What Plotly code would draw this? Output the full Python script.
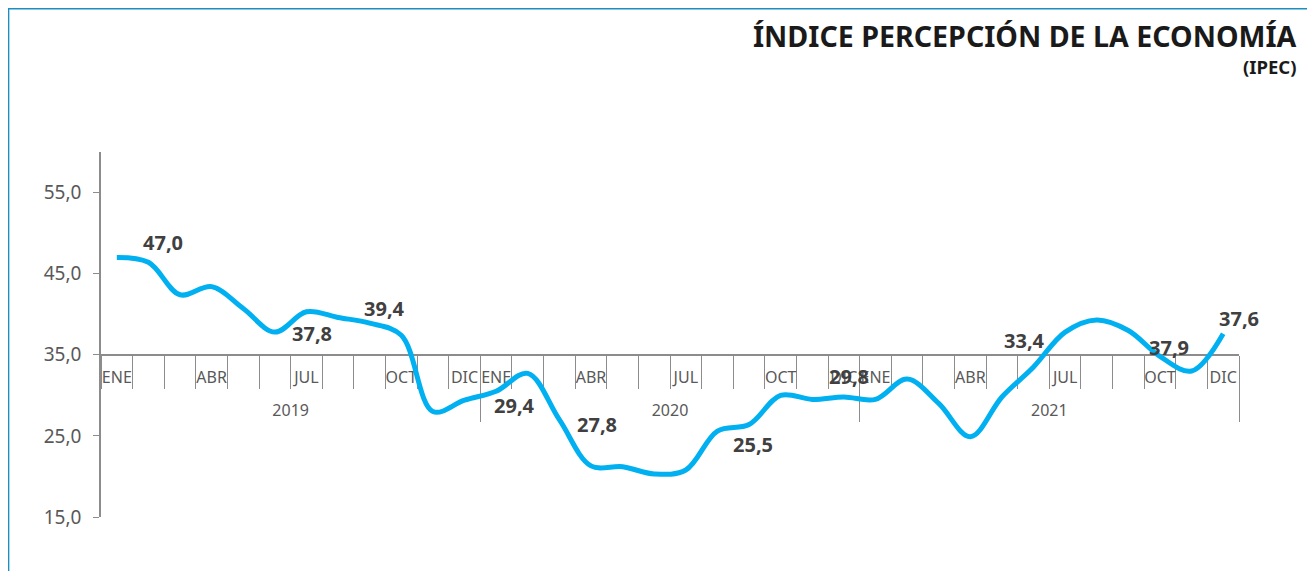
import plotly.graph_objects as go

# ---------------- data ----------------
years = ["2019", "2020", "2021"]
months = ["ENE", "FEB", "MAR", "ABR", "MAY", "JUN", "JUL", "AGO", "SEP", "OCT", "NOV", "DIC"]
shown_months = ["ENE", "ABR", "JUL", "OCT", "DIC"]

ipec = [47.0, 46.4, 42.4, 43.4, 40.7, 37.8, 40.3, 39.6, 38.9, 37.4, 28.0, 29.4,
        30.5, 32.7, 27.0, 21.3, 21.2, 20.3, 20.8, 25.6, 26.4, 30.0, 29.5, 29.8,
        29.5, 32.0, 29.0, 24.9, 29.8, 33.5, 37.8, 39.3, 38.0, 34.8, 33.0, 37.6]

label_text = ["47,0", "37,8", "39,4", "29,4", "27,8", "25,5", "29,8", "33,4", "37,9", "37,6"]
# label anchor positions (category index, value units)
label_pos_x = [1.46, 6.18, 8.46, 12.58, 15.2, 20.14, 23.17, 28.72, 33.27, 35.5]
label_pos_y = [48.8, 37.65, 40.7, 28.8, 26.4, 23.9, 32.3, 36.8, 35.9, 39.5]

y_ticks = [15, 25, 35, 45, 55]
y_range = [15, 60]
x_cross = 35

# ---------------- derived ----------------
n = len(ipec)
x_idx = list(range(n))
boundaries = [i - 0.5 for i in range(n + 1)]
month_tickvals, month_ticktext = [], []
for yi, _ in enumerate(years):
    for mi, m in enumerate(months):
        if m in shown_months:
            month_tickvals.append(yi * 12 + mi)
            month_ticktext.append(m)
year_tickvals = [yi * 12 + 5.5 for yi in range(len(years))]
year_bounds = [yi * 12 + 11.5 for yi in range(len(years))]
xr = [-0.5, n - 0.5]
pos = (x_cross - y_range[0]) / (y_range[1] - y_range[0])

FONT = "Noto Sans"
GRAY = "#8c8c8c"
TXT = "#595959"

W, H = 1315, 571
ML, MR, MT, MB = 93, 84, 144, 62
pw, ph = W - ML - MR, H - MT - MB
OFF = 8  # page offset of the figure


def px_x(v):
    return (v - OFF - ML) / pw


def px_y(v):
    return (H - MB - (v - OFF)) / ph


fig = go.Figure()
fig.add_trace(go.Scatter(
    x=x_idx, y=ipec, mode="lines",
    line=dict(color="#00B0F0", width=5, shape="spline", smoothing=1.0),
    hoverinfo="skip", showlegend=False))

for t, lx, ly in zip(label_text, label_pos_x, label_pos_y):
    fig.add_annotation(x=lx, y=ly, xref="x", yref="y", text=t, showarrow=False,
                       font=dict(family=FONT, size=20, color="#404040", weight="bold"))

common = dict(range=xr, anchor="free", position=pos, showgrid=False, zeroline=False,
              layer="below traces", fixedrange=True)

fig.update_layout(
    width=W, height=H,
    margin=dict(l=ML, r=MR, t=MT, b=MB),
    paper_bgcolor="white", plot_bgcolor="white",
    separators=",.",
    font=dict(family=FONT, color=TXT),
    xaxis=dict(**common, showline=True, linecolor=GRAY, linewidth=1.5,
               ticks="outside", tickmode="array", tickvals=boundaries, ticklen=33,
               tickcolor=GRAY, tickwidth=1.2, showticklabels=False),
    xaxis2=dict(**common, overlaying="x", showline=False,
                ticks="outside", tickmode="array", tickvals=month_tickvals,
                ticktext=month_ticktext, ticklen=8, tickcolor="rgba(0,0,0,0)",
                tickfont=dict(family=FONT, size=16, color=TXT)),
    xaxis3=dict(**common, overlaying="x", showline=False,
                ticks="outside", tickmode="array", tickvals=year_bounds, ticklen=66,
                tickcolor=GRAY, tickwidth=1.2, showticklabels=False),
    xaxis4=dict(**common, overlaying="x", showline=False,
                ticks="outside", tickmode="array", tickvals=year_tickvals,
                ticktext=years, ticklen=41, tickcolor="rgba(0,0,0,0)",
                tickfont=dict(family=FONT, size=16, color=TXT)),
    yaxis=dict(range=y_range, tickmode="array", tickvals=y_ticks, tickformat=".1f",
               showline=True, linecolor=GRAY, linewidth=1.5, ticks="outside",
               ticklen=6, tickcolor=GRAY, showgrid=False, zeroline=False,
               ticklabelstandoff=8, layer="below traces",
               tickfont=dict(family=FONT, size=19, color=TXT), fixedrange=True),
)

# dummy traces to register overlay axes
for ax in ["x2", "x3", "x4"]:
    fig.add_trace(go.Scatter(x=[0], y=[None], xaxis=ax, yaxis="y", mode="lines",
                             showlegend=False, hoverinfo="skip"))

# Title
fig.add_annotation(x=px_x(1299), y=px_y(36), xref="paper", yref="paper",
                   text="ÍNDICE PERCEPCIÓN DE LA ECONOMÍA",
                   showarrow=False, xanchor="right", yanchor="middle",
                   font=dict(family=FONT, size=28.6, color="#1a1a1a", weight="bold"))
fig.add_annotation(x=px_x(1298), y=px_y(67), xref="paper", yref="paper", text="(IPEC)",
                   showarrow=False, xanchor="right", yanchor="middle",
                   font=dict(family=FONT, size=18.5, color="#1a1a1a", weight="bold"))

FRAME = "#1b8ec2"
fig.add_shape(type="line", xref="paper", yref="paper", x0=px_x(8.6), x1=px_x(8.6),
              y0=px_y(8.6), y1=px_y(590), line=dict(color=FRAME, width=1.5))
fig.add_shape(type="line", xref="paper", yref="paper", x0=px_x(8), x1=px_x(1314),
              y0=px_y(8.8), y1=px_y(8.8), line=dict(color=FRAME, width=1.5))
fig.add_shape(type="line", xref="paper", yref="paper", x0=px_x(1313.5), x1=px_x(1313.5),
              y0=px_y(8.6), y1=px_y(590), line=dict(color="#9cc6da", width=1.2))

fig.write_html("out.html")
